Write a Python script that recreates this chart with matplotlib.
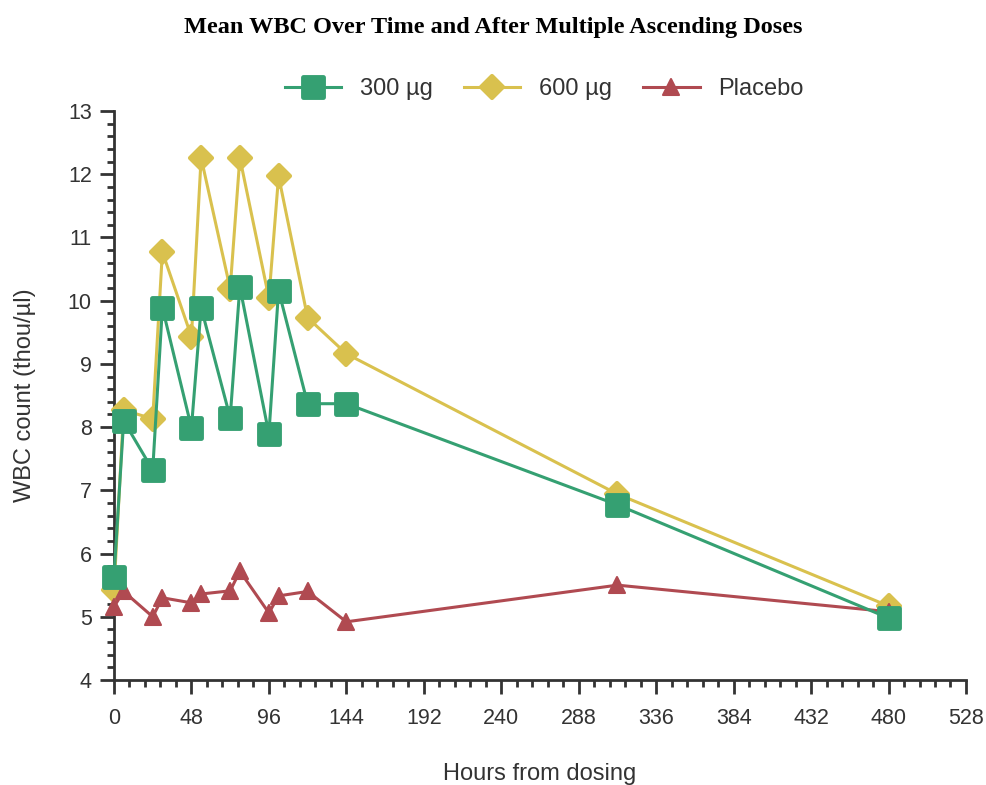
import matplotlib
matplotlib.use("Agg")
from matplotlib import pyplot as plt
from matplotlib.markers import MarkerStyle
from matplotlib.ticker import MultipleLocator

hours = [0, 6, 24, 30, 48, 54, 72, 78, 96, 102, 120, 144, 312, 480]
wbc_300 = [5.63, 8.10, 7.32, 9.89, 7.99, 9.89, 8.15, 10.22, 7.89, 10.16, 8.37, 8.37, 6.77, 4.98]
wbc_600 = [5.42, 8.27, 8.13, 10.77, 9.43, 12.26, 10.19, 12.26, 10.04, 11.97, 9.73, 9.16, 6.94, 5.17]
wbc_placebo = [5.16, 5.40, 5.00, 5.30, 5.22, 5.36, 5.41, 5.72, 5.06, 5.33, 5.40, 4.92, 5.50, 5.08]

labels = ["300 µg", "600 µg", "Placebo"]
x_ticks = list(range(0, 529, 48))

plt.rcParams["font.family"] = ["Liberation Sans", "DejaVu Sans"]

fig = plt.figure(figsize=(9.86, 7.85), dpi=100)
ax = fig.add_axes([0.1156, 0.1338, 0.8641, 0.7248])

green = "#35a072"
yellow = "#d9c14e"
red = "#b04a51"
dark = "#333333"

sq = MarkerStyle("s", joinstyle="round")
dia = MarkerStyle("D", joinstyle="round")
tri = MarkerStyle("^", joinstyle="round")

l600, = ax.plot(hours, wbc_600, color=yellow, lw=2.2, marker=dia, ms=11.5,
                mec=yellow, mew=3, clip_on=False, zorder=3, label=labels[1])
lpl, = ax.plot(hours, wbc_placebo, color=red, lw=2.2, marker=tri, ms=12,
               mec=red, mew=1.5, clip_on=False, zorder=4, label=labels[2])
l300, = ax.plot(hours, wbc_300, color=green, lw=2.2, marker=sq, ms=15,
                mec=green, mew=3.5, clip_on=False, zorder=5, label=labels[0])

ax.set_xlim(0, 528)
ax.set_ylim(4, 13)
ax.set_xticks(x_ticks)
ax.xaxis.set_minor_locator(MultipleLocator(9.6))
ax.yaxis.set_major_locator(MultipleLocator(1))
ax.yaxis.set_minor_locator(MultipleLocator(0.2))

for side in ["top", "right"]:
    ax.spines[side].set_visible(False)
for side in ["left", "bottom"]:
    ax.spines[side].set_color(dark)
    ax.spines[side].set_linewidth(2)

ax.tick_params(which="major", length=10, width=2, color=dark,
               labelsize=15.5, labelcolor=dark, pad=6)
ax.tick_params(axis="x", which="major", pad=10)
ax.tick_params(which="minor", length=5, width=2, color=dark)

ax.set_xlabel("Hours from dosing", fontsize=17, color=dark, labelpad=25)
ax.set_ylabel("WBC count (thou/µl)", fontsize=17, color=dark, labelpad=23)

fig.suptitle("Mean WBC Over Time and After Multiple Ascending Doses",
             fontsize=17.5, fontweight="bold", family="Liberation Serif", y=0.978)

fig.legend([l300, l600, lpl], labels, loc="center", bbox_to_anchor=(0.552, 0.886),
           ncol=3, frameon=False, fontsize=17, handlelength=2.4,
           columnspacing=1.3, handletextpad=0.8, labelcolor=dark)

fig.savefig("out.png", dpi=100, facecolor="white")
